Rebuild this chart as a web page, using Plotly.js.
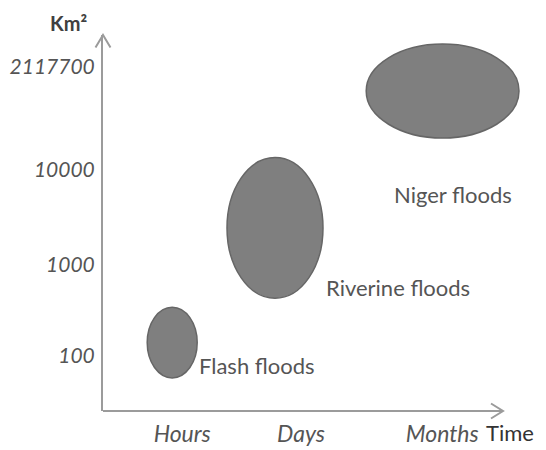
<!DOCTYPE html>
<html>
<head>
<meta charset="utf-8">
<script src="https://cdn.plot.ly/plotly-3.0.1.min.js"></script>
<style>html,body{margin:0;padding:0;background:#fff;}#chart{width:546px;height:450px;}</style>
</head>
<body>
<div id="chart"></div>
<script>
// Time axis categories (schematic positions on the time axis)
const timeCategories = ['Hours', 'Days', 'Months'];
const timePositions = [1.98, 4.95, 8.48];
// Area axis tick labels (km²) and their schematic positions
const areaLabels = ['100', '1000', '10000', '2117700'];
const areaPositions = [1.46, 3.90, 6.42, 9.15];
// Flood types: extent in time (x) and area (y), drawn as ellipses
const floodTypes = ['Flash floods', 'Riverine floods', 'Niger floods'];
const floodCenterX = [1.73, 4.30, 8.49];
const floodCenterY = [1.82, 4.87, 8.51];
const floodRadiusX = [0.625, 1.20, 1.91];
const floodRadiusY = [0.94, 1.87, 1.25];
const floodLabelX = [2.35, 5.52, 7.22];
const floodLabelY = [1.22, 3.29, 5.76];
// end of the drawn time axis
const timeAxisEnd = 10;

const W = 546, H = 450;
const margin = {l: 103, r: 21, t: 35, b: 39};
const xMax = (W - margin.l - margin.r) / 40;
const axisColor = '#9b9b9b';
const font = 'Lato, "Open Sans", sans-serif';

const pw = W - margin.l - margin.r, ph = H - margin.t - margin.b;
const xPerPx = xMax / pw, px = v => v / pw, py = v => v / ph;

const shapes = floodTypes.map((name, i) => ({
  type: 'circle', xref: 'x', yref: 'y',
  x0: floodCenterX[i] - floodRadiusX[i], x1: floodCenterX[i] + floodRadiusX[i],
  y0: floodCenterY[i] - floodRadiusY[i], y1: floodCenterY[i] + floodRadiusY[i],
  fillcolor: '#7f7f7f', line: {color: '#666666', width: 1.5}, layer: 'above'
}));

// time axis line with arrowhead
shapes.push({
  type: 'line', xref: 'x', yref: 'paper', x0: 0, x1: timeAxisEnd, y0: 0, y1: 0,
  line: {color: axisColor, width: 2}
});
shapes.push({
  type: 'path', xref: 'x', yref: 'paper',
  path: `M ${timeAxisEnd - 12 * xPerPx} ${py(7.5)} L ${timeAxisEnd} 0 L ${timeAxisEnd - 12 * xPerPx} ${-py(7.5)}`,
  line: {color: axisColor, width: 2}
});
// area axis arrowhead
shapes.push({
  type: 'path', xref: 'paper', yref: 'paper',
  path: `M ${-px(7.5)} ${1 - py(12.5)} L 0 1 L ${px(7.5)} ${1 - py(12.5)}`,
  line: {color: axisColor, width: 2}
});

const annotations = floodTypes.map((name, i) => ({
  x: floodLabelX[i], y: floodLabelY[i], xref: 'x', yref: 'y',
  text: name, showarrow: false, xanchor: 'left', yanchor: 'middle',
  font: {family: font, size: 22, color: '#555555'}
}));
annotations.push({
  x: (510 - margin.l) / pw, y: -(432 - (H - margin.b)) / ph, xref: 'paper', yref: 'paper',
  text: 'Time', showarrow: false, xanchor: 'center', yanchor: 'middle',
  font: {family: font, size: 22, color: '#333333'}
});
annotations.push({
  x: (68 - margin.l) / pw, y: 1 + (margin.t - 23) / ph, xref: 'paper', yref: 'paper',
  text: '<b>Km²</b>', showarrow: false, xanchor: 'center', yanchor: 'middle',
  font: {family: font, size: 20, color: '#404040'}
});

const trace = {
  x: floodCenterX, y: floodCenterY, text: floodTypes,
  mode: 'markers', type: 'scatter', hoverinfo: 'text',
  marker: {opacity: 0}, showlegend: false
};

const layout = {
  width: W, height: H, margin: margin,
  paper_bgcolor: '#ffffff', plot_bgcolor: '#ffffff',
  showlegend: false,
  xaxis: {
    range: [0, xMax], showgrid: false, zeroline: false, showline: false,
    tickmode: 'array', tickvals: timePositions, ticktext: timeCategories,
    ticks: '', ticklabelstandoff: 7,
    tickfont: {family: font, size: 23, color: '#555555', style: 'italic'}
  },
  yaxis: {
    range: [0, 10], showgrid: false, zeroline: false,
    showline: true, linecolor: axisColor, linewidth: 2,
    tickmode: 'array', tickvals: areaPositions, ticktext: areaLabels,
    ticks: '', ticklabelstandoff: 2,
    tickfont: {family: font, size: 21, color: '#555555', style: 'italic'}
  },
  shapes: shapes,
  annotations: annotations
};

Plotly.newPlot('chart', [trace], layout, {displayModeBar: false, staticPlot: true});
</script>
</body>
</html>
